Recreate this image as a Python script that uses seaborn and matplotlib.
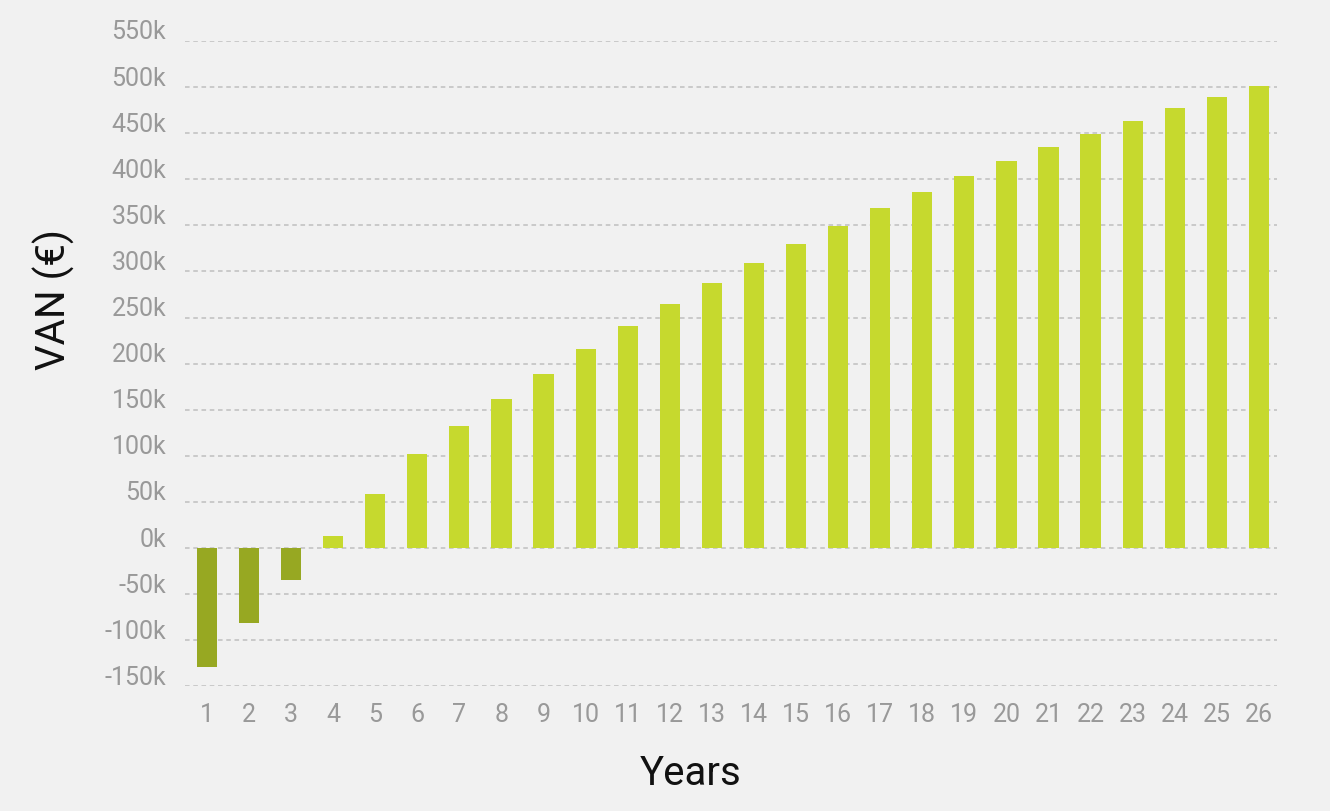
import matplotlib
matplotlib.use("Agg")
import matplotlib.pyplot as plt
import matplotlib.transforms as mtransforms
import pandas as pd
import seaborn as sns

# VAN per year, in thousands of euros
years = list(range(1, 27))
van_k = [-129.6, -80.8, -34.4, 13.0, 58.6, 102.0, 132.5, 161.3, 189.2, 215.6,
         240.6, 264.5, 287.7, 309.4, 330.0, 349.6, 368.4, 385.8, 403.1, 419.4,
         434.6, 449.5, 463.6, 477.0, 489.7, 501.6]
y_ticks = [-150, -100, -50, 0, 50, 100, 150, 200, 250, 300, 350, 400, 450, 500, 550]
y_tick_labels = [f"{t}k" for t in y_ticks]

POS = "#c6d92e"
NEG = "#97a822"
BG = "#f1f1f1"

df = pd.DataFrame({"year": [str(y) for y in years], "van": van_k})
df["sign"] = ["neg" if v < 0 else "pos" for v in van_k]

sns.set_theme(style="white")
plt.rcParams["font.family"] = ["Roboto", "DejaVu Sans"]

fig = plt.figure(figsize=(13.3, 8.12), dpi=100, facecolor=BG)
ax = fig.add_axes([185 / 1330, 1 - 687.3 / 812, (1277 - 185) / 1330, (687.3 - 42) / 812])
ax.set_facecolor(BG)

sns.barplot(data=df, x="year", y="van", hue="sign", palette={"pos": POS, "neg": NEG},
            width=0.48, legend=False, saturation=1, linewidth=0, ax=ax, zorder=2)

ax.set_ylim(-150, 550)
ax.set_xlim(-0.52, 25.43)
ax.set_yticks(y_ticks)
ax.set_yticklabels(y_tick_labels)
ax.yaxis.grid(True, color="#bfbfbf", linewidth=1.1, linestyle=(0, (3.0, 2.4)), zorder=0)
ax.xaxis.grid(False)
ax.set_axisbelow(True)
for s in ax.spines.values():
    s.set_visible(False)

ax.tick_params(axis="both", length=0, labelsize=18, labelcolor="#999999")
ax.tick_params(axis="y", pad=13.5)
ax.tick_params(axis="x", pad=11)

# y labels sit a little above their grid line
lift = mtransforms.ScaledTranslation(0, 12 / 100, fig.dpi_scale_trans)
for lab in ax.get_yticklabels():
    lab.set_transform(lab.get_transform() + lift)

ax.set_xlabel("")
ax.set_ylabel("")
fig.text(691 / 1330, 1 - 774 / 812, "Years", ha="center", va="center",
         fontsize=29, color="#111111")
fig.text(54 / 1330, 1 - 299 / 812, "VAN (€)", ha="center", va="center",
         rotation=90, fontsize=29, color="#111111")

fig.savefig("out.png", dpi=100, facecolor=BG)
